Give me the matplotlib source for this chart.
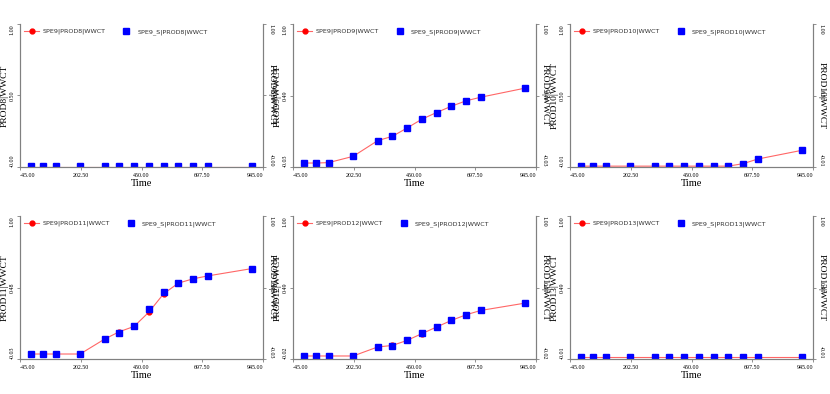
import numpy as np
import matplotlib
matplotlib.use("Agg")
import matplotlib.pyplot as plt

# time axis (days), shared by every well
times = [1, 50, 100, 200, 300, 360, 420, 480, 540, 600, 660, 720, 900]
x_ticks = [-45.0, 202.5, 450.0, 697.5, 945.0]
x_ticklabels = ["-45.00", "202.50", "450.00", "697.50", "945.00"]

wells = ["PROD8", "PROD9", "PROD10", "PROD11", "PROD12", "PROD13"]

# water cut, SPE9 (reference) and SPE9_S (simulated)
spe9 = {
    "PROD8":  [0, 0, 0, 0, 0, 0, 0, 0, 0, 0, 0, 0, 0],
    "PROD9":  [0.001, 0.001, 0.004, 0.049, 0.162, 0.193, 0.253, 0.316, 0.364, 0.409, 0.448, 0.474, 0.539],
    "PROD10": [0, 0, 0, 0, 0, 0, 0, 0, 0, 0, 0.0175, 0.050, 0.1115],
    "PROD11": [0.005, 0.005, 0.005, 0.005, 0.113, 0.166, 0.204, 0.307, 0.439, 0.516, 0.547, 0.568, 0.621],
    "PROD12": [0.004, 0.004, 0.004, 0.004, 0.068, 0.079, 0.115, 0.163, 0.210, 0.257, 0.297, 0.328, 0.380],
    "PROD13": [0, 0, 0, 0, 0, 0, 0, 0, 0, 0, 0, 0, 0],
}
spe9_s = {
    "PROD8":  [0.004] * 13,
    "PROD9":  [0.001, 0.001, 0.004, 0.049, 0.162, 0.193, 0.253, 0.316, 0.364, 0.409, 0.448, 0.474, 0.539],
    "PROD10": [0.001, 0.001, 0.001, 0.001, 0.001, 0.001, 0.001, 0.001, 0.001, 0.001, 0.0175, 0.050, 0.1115],
    "PROD11": [0.005, 0.005, 0.005, 0.005, 0.113, 0.156, 0.204, 0.326, 0.451, 0.516, 0.547, 0.568, 0.621],
    "PROD12": [0.006, 0.006, 0.006, 0.006, 0.068, 0.077, 0.115, 0.165, 0.210, 0.257, 0.297, 0.328, 0.380],
    "PROD13": [0.004] * 13,
}
y_min = [-0.001, -0.0275, -0.006, -0.031, -0.0175, -0.012]
y_ticklabels = [
    ["-0.00", "0.50", "1.00"],
    ["-0.03", "0.49", "1.00"],
    ["-0.01", "0.50", "1.00"],
    ["-0.03", "0.48", "1.00"],
    ["-0.02", "0.49", "1.00"],
    ["-0.01", "0.49", "1.00"],
]

W, H = 830, 394
fig = plt.figure(figsize=(W / 100, H / 100), dpi=100)

lefts = [20, 293, 570]
tops = [24, 216]
aw, ah = 243, 143
serif = "Liberation Serif"
spine_c = "#808080"

for i, well in enumerate(wells):
    r, c = divmod(i, 3)
    rect = [lefts[c] / W, 1 - (tops[r] + ah) / H, aw / W, ah / H]
    ax = fig.add_axes(rect)
    ax2 = ax.twinx()

    ax.plot(times, spe9[well], color="#ff6666", lw=0.8, marker="o", ms=3.5,
            mfc="red", mec="red", markevery=[], label="SPE9|%s|WWCT" % well)
    ax.plot(times, spe9[well], color="red", lw=0, marker="o", ms=3.5)
    ax.plot(times, spe9_s[well], color="blue", lw=0, marker="s", ms=4,
            label="SPE9_S|%s|WWCT" % well)

    lo = y_min[i]
    yt = [lo, (lo + 1) / 2, 1.0]
    for a in (ax, ax2):
        a.set_xlim(-45, 945)
        a.set_ylim(lo, 1.0)
        a.set_yticks(yt)
        a.spines["top"].set_visible(False)
        for s in ("left", "right", "bottom"):
            a.spines[s].set_color(spine_c)
            a.spines[s].set_linewidth(0.8)
        a.tick_params(length=2.5, width=0.6, color=spine_c, pad=1.5,
                      labelsize=4.3)
    ax.set_xticks(x_ticks)
    xl = ax.set_xticklabels(x_ticklabels, fontfamily=serif)
    xl[0].set_ha("left")
    xl[-1].set_ha("right")

    ll = ax.set_yticklabels(y_ticklabels[i], rotation=90, fontfamily=serif)
    rl = ax2.set_yticklabels(y_ticklabels[i], rotation=270, fontfamily=serif)
    for labs in (ll, rl):
        labs[0].set_va("bottom")
        labs[1].set_va("center")
        labs[2].set_va("top")

    ax.set_xlabel("Time", fontfamily=serif, fontsize=7.5, labelpad=1)
    ax.set_ylabel("%s|WWCT" % well, fontfamily=serif, fontsize=6.8)
    ax.yaxis.set_label_coords(-11 / aw, 0.5)
    ax2.set_ylabel("%s|WWCT" % well, fontfamily=serif, fontsize=6.8, rotation=270)
    ax2.yaxis.set_label_coords(1 + 13 / aw, 0.5)

    leg = ax.legend(loc="upper left", bbox_to_anchor=(0.0, 1.0), ncol=2,
                    frameon=False, fontsize=4.6, columnspacing=2.2,
                    handlelength=2.2, handletextpad=0.6, borderaxespad=0.3)
    for t in leg.get_texts():
        t.set_color("#333333")

fig.savefig("out.png", dpi=100)
